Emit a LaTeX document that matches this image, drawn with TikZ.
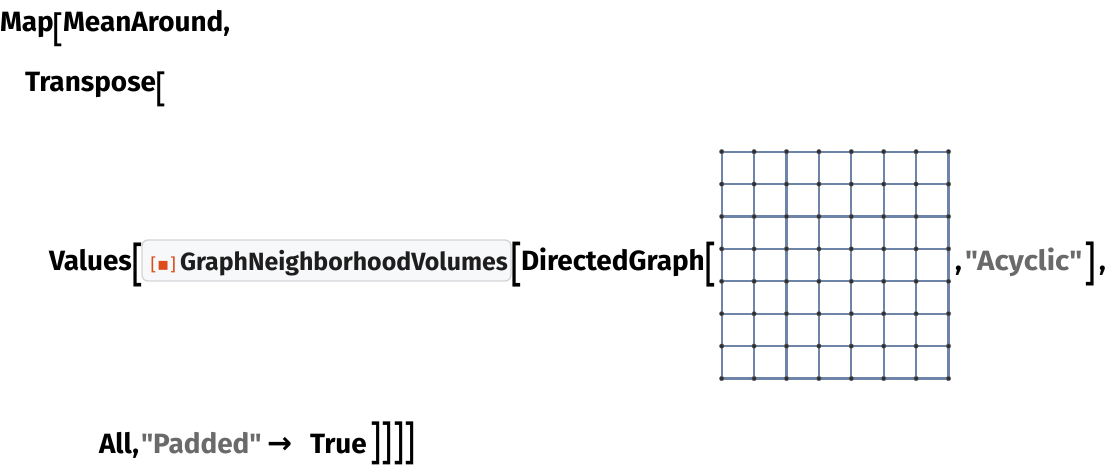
\documentclass[tikz,border=0pt]{standalone}
\usepackage{graphicx}
\usepackage{fontspec}
\setmainfont{Fira Sans}[Ligatures=TeXOff]
\newfontfamily\djvfont{DejaVu Sans}
\definecolor{strgray}{HTML}{6A6A6A}
\definecolor{edgeblue}{HTML}{6E84A8}
\definecolor{vtxdark}{HTML}{2E3033}
\definecolor{iconorange}{HTML}{DD4D1C}
\definecolor{boxfill}{HTML}{F7F8FA}
\definecolor{boxline}{HTML}{D2D4D7}
\definecolor{boxtext}{HTML}{1E1E1E}
\newcommand\stbr[3]{\resizebox*{#1bp}{#2bp}{\fontsize{30}{30}\selectfont\mdseries #3}}
\begin{document}
\begin{tikzpicture}[x=1bp,y=-1bp,
  txt/.style={anchor=base west,inner sep=0pt,outer sep=0pt,font=\fontsize{28}{32}\selectfont\bfseries},
  boxtxt/.style={anchor=base west,inner sep=0pt,outer sep=0pt,text=boxtext,font=\fontsize{25}{30}\selectfont\bfseries},
  brk/.style={anchor=north west,inner sep=0pt,outer sep=0pt},
  gedge/.style={draw=edgeblue,line width=2.3bp},
  vtx/.style={circle,fill=vtxdark,draw=vtxdark!70,line width=0.4bp,inner sep=0pt,minimum size=4.6bp},
  fnbox/.style={draw=boxline,fill=boxfill,line width=1.3bp,rounded corners=6bp}]
\useasboundingbox (0,0) rectangle (1108,472);
% line 1
\node[txt] (map) at (0,32) {Map};
\node[brk] (b1) at (52,13) {\stbr{11}{34}{[}};
\node[txt] (mean) at (63,32) {MeanAround,};
% line 2
\node[txt] (trans) at (25,92) {Transpose};
\node[brk] (b2) at (155,72) {\stbr{11}{35}{[}};
% line 3
\node[txt] (vals) at (49,271) {Values};
\node[brk] (b3) at (131,243) {\stbr{12}{44}{[}};
\path[fnbox] (142,240) rectangle (511,281);
\node[anchor=base west,inner sep=0pt,text=iconorange,font=\djvfont\fontsize{18}{20}\selectfont] (icon) at (150,271) {[▪]};
\node[boxtxt] (gnv) at (180,271) {GraphNeighborhoodVolumes};
\node[brk] (b4) at (510,242) {\stbr{12}{45}{[}};
\node[txt] (dg) at (521,271) {DirectedGraph};
\node[brk] (b5) at (704,242) {\stbr{12}{45}{[}};
% grid
\foreach \i in {0,...,7}{\foreach \j in {0,...,7}{
  \coordinate (c-\i-\j) at ({721.7+32.4*\i},{151.7+32.4*\j});}}
\foreach \i in {0,...,7}{\foreach \j [count=\k] in {0,...,6}{
  \draw[gedge] (c-\i-\j) -- (c-\i-\k);
  \draw[gedge] (c-\j-\i) -- (c-\k-\i);}}
\foreach \i in {0,...,7}{\foreach \j in {0,...,7}{
  \node[vtx] (v-\i-\j) at (c-\i-\j) {};}}
\node[txt] (cm1) at (955,271) {,};
\node[txt,text=strgray] (acy) at (965,271) {\scalebox{1.06}[1]{"Acyclic"}};
\node[brk] (b6) at (1084,242) {\stbr{12}{44}{]}};
\node[txt] (cm2) at (1099,271) {,};
% line 4
\node[txt] (all) at (99,453) {All,};
\node[txt,text=strgray] (pad) at (141,453) {"Padded"};
\node[anchor=base west,inner sep=0pt,font=\djvfont\bfseries\fontsize{30}{32}\selectfont] (arr) at (267,453) {→};
\node[txt] (tru) at (310,453) {True};
\node[brk] (b7) at (370,422) {\stbr{46}{43}{]]]]}};
\end{tikzpicture}
\end{document}
